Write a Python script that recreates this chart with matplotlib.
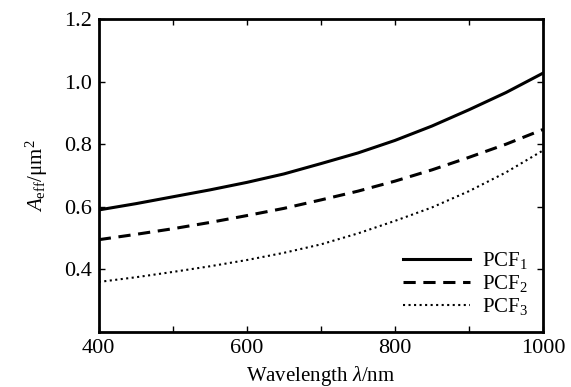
import numpy as np
import matplotlib.pyplot as plt

plt.rcParams['font.family'] = ['Liberation Serif', 'DejaVu Serif']
plt.rcParams['mathtext.fontset'] = 'custom'
plt.rcParams['mathtext.rm'] = 'Liberation Serif'
plt.rcParams['mathtext.it'] = 'Liberation Serif:italic'

wl = [400, 450, 500, 550, 600, 650, 700, 750, 800, 850, 900, 950, 1000]
pcf1 = [0.590, 0.610, 0.632, 0.654, 0.678, 0.705, 0.738, 0.772, 0.812, 0.858, 0.910, 0.965, 1.027]
pcf2 = [0.495, 0.512, 0.530, 0.550, 0.572, 0.595, 0.622, 0.650, 0.682, 0.718, 0.758, 0.800, 0.847]
pcf3 = [0.360, 0.375, 0.392, 0.410, 0.430, 0.453, 0.480, 0.515, 0.555, 0.598, 0.650, 0.710, 0.780]

fig = plt.figure(figsize=(5.71, 3.87), dpi=100)
ax = fig.add_axes([0.173, 0.142, 0.778, 0.809])

ax.plot(wl, pcf1, "k-", lw=2.2, label="PCF$_1$")
ax.plot(wl, pcf2, "k--", lw=2.2, dashes=(4, 2.5), label="PCF$_2$")
ax.plot(wl, pcf3, "k:", lw=1.5, label="PCF$_3$")

ax.set_xlim(400, 1000)
ax.set_ylim(0.2, 1.2)
ax.set_xticks([400, 600, 800, 1000])
ax.set_xticks([500, 700, 900], minor=True)
ax.set_yticks([0.4, 0.6, 0.8, 1.0, 1.2])
ax.set_yticklabels(["0.4", "0.6", "0.8", "1.0", "1.2"])
ax.tick_params(which="both", direction="in", top=True, right=True, labelsize=16, width=1, length=4, pad=5)
for s in ax.spines.values():
    s.set_linewidth(2)

ax.set_xlabel(r"Wavelength $\mathit{\lambda}$/nm", fontsize=15, labelpad=4)
ax.set_ylabel(r"$\mathit{A}_{\rm eff}$/μm$^2$", fontsize=15, labelpad=10)

ax.legend(loc="lower right", frameon=False, fontsize=15, handlelength=3.2, labelspacing=0.1,
          borderaxespad=0.3, handletextpad=0.6)

plt.savefig("out.png", dpi=100)
